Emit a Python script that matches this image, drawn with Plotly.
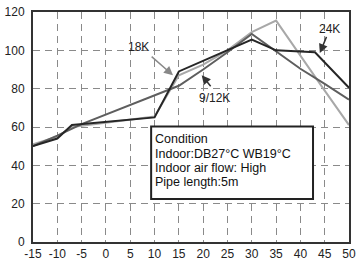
import plotly.graph_objects as go

# Outdoor temperature (°C) and capacity (%)
x_24k = [-15, -10, -7, 10, 15, 30, 35, 43, 50]
y_24k = [50, 54, 61, 65, 89, 105.6, 100, 99, 80.5]

x_18k = [-15, -10, -7, 10, 15, 20, 25, 30, 35, 40, 45, 50]
y_18k = [51, 55, 60, 65.5, 87, 92.5, 100, 109.5, 115.5, 97, 79, 61]

x_912k = [-15, -10, -5, 0, 5, 10, 15, 20, 25, 30, 35, 40, 45, 50]
y_912k = [50, 55.5, 61.5, 66.5, 71.5, 76.5, 81.5, 90, 99, 108.5, 99.5, 90.4, 82.5, 74.3]

x_ticks = list(range(-15, 55, 5))
y_ticks = [0, 20, 40, 60, 80, 100, 120]

condition_lines = ["Condition", "Indoor:DB27°C WB19°C", "Indoor air flow: High", "Pipe length:5m"]

fig = go.Figure()
fig.add_trace(go.Scatter(x=x_18k, y=y_18k, mode="lines", line=dict(color="#a8a8a8", width=2), name="18K"))
fig.add_trace(go.Scatter(x=x_912k, y=y_912k, mode="lines", line=dict(color="#5e5e5e", width=2), name="9/12K"))
fig.add_trace(go.Scatter(x=x_24k, y=y_24k, mode="lines", line=dict(color="#262626", width=2), name="24K"))

font = "Liberation Sans, Arial, sans-serif"

# Condition box
fig.add_shape(type="rect", xref="x", yref="y", x0=9.3, x1=42.6, y0=22.5, y1=60.3,
              line=dict(color="#222", width=2), fillcolor="white", layer="above")
cond_y = [53.5, 46.1, 38.7, 31.2]
for txt, yy in zip(condition_lines, cond_y):
    fig.add_annotation(x=9.6, y=yy, xref="x", yref="y", text=txt, showarrow=False,
                       xanchor="left", yanchor="middle",
                       font=dict(family=font, size=12.5, color="#111"))

# Series labels with arrows
labels = [
    dict(text="18K", tx=6.8, ty=101.6, ax=9.1, ay=97.4, hx=13.8, hy=87, color="#888"),
    dict(text="9/12K", tx=22.3, ty=75.3, ax=21.8, ay=80.5, hx=19.7, hy=87, color="#333"),
    dict(text="24K", tx=45.9, ty=111.2, ax=45.5, ay=107.8, hx=44.0, hy=98.6, color="#333"),
]
for lb in labels:
    fig.add_annotation(x=lb["tx"], y=lb["ty"], xref="x", yref="y", text=lb["text"], showarrow=False,
                       font=dict(family=font, size=12, color="#222"))
    fig.add_annotation(x=lb["hx"], y=lb["hy"], ax=lb["ax"], ay=lb["ay"], xref="x", yref="y",
                       axref="x", ayref="y", text="", showarrow=True, arrowhead=2, arrowsize=1.2,
                       arrowwidth=1.5, arrowcolor=lb["color"])

fig.update_layout(
    width=356, height=260,
    margin=dict(l=33, r=7, t=12, b=18, autoexpand=False),
    paper_bgcolor="white", plot_bgcolor="white",
    showlegend=False,
    font=dict(family=font, size=12, color="#222"),
)
fig.update_xaxes(range=[-15, 50], tickvals=x_ticks, ticktext=[str(v) for v in x_ticks],
                 showgrid=True, gridcolor="#8a8a8a", gridwidth=1, griddash="7px,5px",
                 showline=True, mirror=True, linecolor="#333", linewidth=2, automargin=False,
                 ticks="", zeroline=False, tickfont=dict(size=12), ticklabelstandoff=0)
fig.update_yaxes(range=[0, 120], tickvals=y_ticks, automargin=False,
                 showgrid=True, gridcolor="#8a8a8a", gridwidth=1, griddash="7px,5px",
                 showline=True, mirror=True, linecolor="#333", linewidth=2,
                 ticks="", zeroline=False, tickfont=dict(size=12), ticklabelstandoff=4)

fig.write_html("out.html", config={"displayModeBar": False},
               post_script="document.body.style.margin='0';document.body.style.padding='0';")
